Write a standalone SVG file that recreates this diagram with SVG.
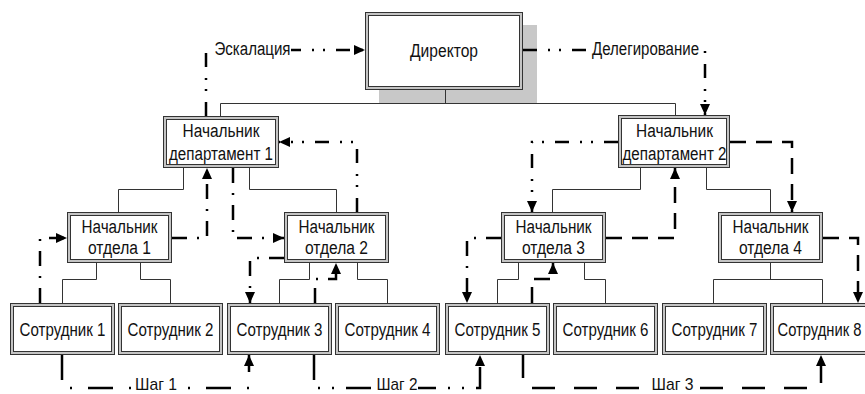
<svg xmlns="http://www.w3.org/2000/svg" width="865" height="394" viewBox="0 0 865 394">
<style>
.o{fill:#c4c4c4;stroke:#333;stroke-width:1}
.i{fill:#fff;stroke:#333;stroke-width:1}
text{font-family:"Liberation Sans",Arial,sans-serif;font-size:18px;fill:#111;text-anchor:middle}
text.st{font-size:17px}
.t{fill:none;stroke:#333;stroke-width:1}
.f{fill:none;stroke:#000;stroke-width:2.5;marker-end:url(#ah)}
.dd2{stroke-dasharray:14 11 2 9 2 11}
.dd1{stroke-dasharray:15 10 2 10}
.ds{stroke-dasharray:16 10}
.s1{stroke-dasharray:25 16 2 16}
.s2{stroke-dasharray:25 12 2 12 2 12}
.s3{stroke-dasharray:23 19}
.bg{fill:#fff}
</style>
<defs>
<marker id="ah" viewBox="0 0 11 10" markerWidth="11" markerHeight="10" refX="11" refY="5" orient="auto" markerUnits="userSpaceOnUse">
<path d="M0,0 L11,5 L0,10 Z" fill="#000"/>
</marker>
</defs>
<rect width="865" height="394" fill="#fff"/>

<g id="director">
<rect x="379" y="25" width="158" height="78" fill="#c8c8c8"/>
<rect class="o" x="365.5" y="12.5" width="157" height="77"/>
<rect class="i" x="368.5" y="15.5" width="151" height="71"/>
<text x="444" y="57" textLength="68" lengthAdjust="spacingAndGlyphs">Директор</text>
</g>

<g id="dept1">
<rect class="o" x="163.5" y="116.5" width="115" height="51"/>
<rect class="i" x="166.5" y="119.5" width="109" height="45"/>
<text x="221" y="137" textLength="77" lengthAdjust="spacingAndGlyphs">Начальник</text>
<text x="221" y="160" textLength="104" lengthAdjust="spacingAndGlyphs">департамент 1</text>
</g>
<g id="dept2">
<rect class="o" x="618.5" y="115.5" width="111" height="52"/>
<rect class="i" x="621.5" y="118.5" width="105" height="46"/>
<text x="674.5" y="137" textLength="77" lengthAdjust="spacingAndGlyphs">Начальник</text>
<text x="674.5" y="160" textLength="104" lengthAdjust="spacingAndGlyphs">департамент 2</text>
</g>

<g id="sec1">
<rect class="o" x="67.5" y="212.5" width="104" height="50"/>
<rect class="i" x="70.5" y="215.5" width="98" height="44"/>
<text x="119.5" y="233" textLength="76" lengthAdjust="spacingAndGlyphs">Начальник</text>
<text x="119.5" y="254" textLength="63" lengthAdjust="spacingAndGlyphs">отдела 1</text>
</g>
<g id="sec2">
<rect class="o" x="284.5" y="212.5" width="104" height="50"/>
<rect class="i" x="287.5" y="215.5" width="98" height="44"/>
<text x="336.5" y="233" textLength="76" lengthAdjust="spacingAndGlyphs">Начальник</text>
<text x="336.5" y="254" textLength="63" lengthAdjust="spacingAndGlyphs">отдела 2</text>
</g>
<g id="sec3">
<rect class="o" x="501.5" y="212.5" width="104" height="50"/>
<rect class="i" x="504.5" y="215.5" width="98" height="44"/>
<text x="553.5" y="233" textLength="76" lengthAdjust="spacingAndGlyphs">Начальник</text>
<text x="553.5" y="254" textLength="63" lengthAdjust="spacingAndGlyphs">отдела 3</text>
</g>
<g id="sec4">
<rect class="o" x="718.5" y="212.5" width="104" height="50"/>
<rect class="i" x="721.5" y="215.5" width="98" height="44"/>
<text x="770.5" y="233" textLength="76" lengthAdjust="spacingAndGlyphs">Начальник</text>
<text x="770.5" y="254" textLength="63" lengthAdjust="spacingAndGlyphs">отдела 4</text>
</g>

<g id="emp1"><rect class="o" x="10.5" y="303.5" width="104" height="51"/><rect class="i" x="13.5" y="306.5" width="98" height="45"/><text x="62.5" y="336" textLength="86" lengthAdjust="spacingAndGlyphs">Сотрудник 1</text></g>
<g id="emp2"><rect class="o" x="118.5" y="303.5" width="104" height="51"/><rect class="i" x="121.5" y="306.5" width="98" height="45"/><text x="170.5" y="336" textLength="86" lengthAdjust="spacingAndGlyphs">Сотрудник 2</text></g>
<g id="emp3"><rect class="o" x="227.5" y="303.5" width="104" height="51"/><rect class="i" x="230.5" y="306.5" width="98" height="45"/><text x="279.5" y="336" textLength="86" lengthAdjust="spacingAndGlyphs">Сотрудник 3</text></g>
<g id="emp4"><rect class="o" x="335.5" y="303.5" width="104" height="51"/><rect class="i" x="338.5" y="306.5" width="98" height="45"/><text x="387.5" y="336" textLength="86" lengthAdjust="spacingAndGlyphs">Сотрудник 4</text></g>
<g id="emp5"><rect class="o" x="445.5" y="303.5" width="104" height="51"/><rect class="i" x="448.5" y="306.5" width="98" height="45"/><text x="497.5" y="336" textLength="86" lengthAdjust="spacingAndGlyphs">Сотрудник 5</text></g>
<g id="emp6"><rect class="o" x="553.5" y="303.5" width="104" height="51"/><rect class="i" x="556.5" y="306.5" width="98" height="45"/><text x="605.5" y="336" textLength="86" lengthAdjust="spacingAndGlyphs">Сотрудник 6</text></g>
<g id="emp7"><rect class="o" x="662.5" y="303.5" width="104" height="51"/><rect class="i" x="665.5" y="306.5" width="98" height="45"/><text x="714.5" y="336" textLength="86" lengthAdjust="spacingAndGlyphs">Сотрудник 7</text></g>
<g id="emp8"><rect class="o" x="770.5" y="303.5" width="104" height="51"/><rect class="i" x="773.5" y="306.5" width="98" height="45"/><text x="819.5" y="336" textLength="84" lengthAdjust="spacingAndGlyphs">Сотрудник 8</text></g>

<g id="connectors">
<path class="t" d="M445.5,90 V103.5 M220.5,116 V103.5 H675.5 V115"/>
<path class="t" d="M183.5,168 V189.5 H118.5 V212 M249.5,168 V189.5 H336.5 V212"/>
<path class="t" d="M640.5,168 V189.5 H552.5 V212 M706.5,168 V189.5 H770.5 V212"/>
<path class="t" d="M96.5,263 V279.5 H62.5 V303 M140.5,263 V279.5 H170.5 V303"/>
<path class="t" d="M309.5,263 V279.5 H279.5 V303 M357.5,263 V279.5 H387.5 V303"/>
<path class="t" d="M518.5,263 V279.5 H497.5 V303 M584.5,263 V279.5 H605.5 V303"/>
<path class="t" d="M770.5,263 V279.5 M713.5,303 V279.5 H822.5 V303"/>

<path class="f dd2" d="M206,116 V50 H365"/>
<path class="f dd2" d="M523,50 H705 V115"/>
<path class="f dd1" d="M172,238 H207 V168"/>
<path class="f dd1" d="M40,303 V238 H67"/>
<path class="f dd1" d="M233,168 V238 H284"/>
<path class="f dd2" d="M357,212 V142 H279"/>
<path class="f dd1" d="M284,258 H250 V303"/>
<path class="f dd1" d="M315,303 V279 H336 V263"/>
<path class="f s1" d="M62,355 V388 H249 V355"/>
<path class="f s2" d="M314,355 V388 H480 V355"/>
<path class="f s3" d="M523,355 V388 H821 V355"/>
<path class="f dd2" d="M618,142 H532 V212"/>
<path class="f ds" d="M606,238 H675 V168"/>
<path class="f ds" d="M730,142 H792 V212"/>
<path class="f ds" d="M823,238 H858 V303"/>
<path class="f dd1" d="M501,238 H467 V303"/>
<path class="f ds" d="M532,303 V279 H553 V263"/>

<rect class="bg" x="213" y="40" width="78" height="20"/>
<text x="252.5" y="55" textLength="76" lengthAdjust="spacingAndGlyphs">Эскалация</text>
<rect class="bg" x="591" y="40" width="109" height="20"/>
<text x="645.5" y="55" textLength="107" lengthAdjust="spacingAndGlyphs">Делегирование</text>
<rect class="bg" x="134" y="377" width="44" height="17"/>
<text class="st" x="156" y="390" textLength="42" lengthAdjust="spacingAndGlyphs">Шаг 1</text>
<rect class="bg" x="376" y="377" width="42" height="17"/>
<text class="st" x="397" y="390" textLength="41" lengthAdjust="spacingAndGlyphs">Шаг 2</text>
<rect class="bg" x="651" y="377" width="43" height="17"/>
<text class="st" x="672.5" y="390" textLength="42" lengthAdjust="spacingAndGlyphs">Шаг 3</text>
</g>
</svg>
